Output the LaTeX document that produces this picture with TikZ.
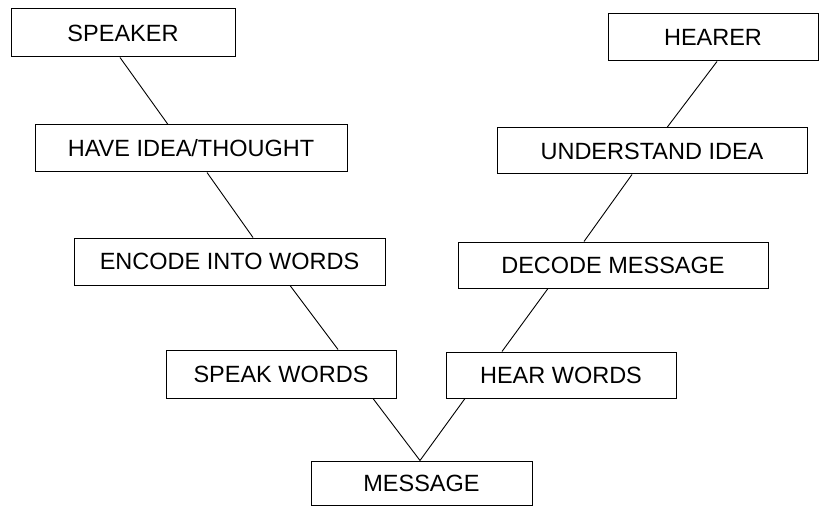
\documentclass[tikz,border=0pt]{standalone}
\usepackage{fontspec}
\setmainfont{Liberation Sans}
\begin{document}
\begin{tikzpicture}[x=1pt,y=-1pt,
  box/.style={draw, line width=1pt, rectangle, inner sep=0pt, font=\fontsize{23.5}{28}\selectfont},
  link/.style={line width=0.9pt}]
\useasboundingbox (0,0) rectangle (820,508);
\node[box, minimum width=224pt, minimum height=48pt] (speaker) at (123,33) {SPEAKER};
\node[box, minimum width=210pt, minimum height=47pt] (hearer) at (713,37.5) {HEARER};
\node[box, minimum width=312pt, minimum height=47pt] (have) at (191,148.5) {HAVE IDEA/THOUGHT};
\node[box, minimum width=310pt, minimum height=46pt] (understand) at (652,151) {UNDERSTAND IDEA};
\node[box, minimum width=311pt, minimum height=47pt] (encode) at (229.5,261.5) {ENCODE INTO WORDS};
\node[box, minimum width=310pt, minimum height=46pt] (decode) at (613,265) {DECODE MESSAGE};
\node[box, minimum width=230pt, minimum height=48pt] (speak) at (281,374) {SPEAK WORDS};
\node[box, minimum width=230pt, minimum height=46pt] (hear) at (561,375) {HEAR WORDS};
\node[box, minimum width=221pt, minimum height=44pt] (message) at (421.5,483) {MESSAGE};
\draw[link] ([xshift=-3pt]speaker.south) -- ([xshift=-23pt]have.north);
\draw[link] ([xshift=16pt]have.south) -- ([xshift=23.5pt]encode.north);
\draw[link] ([xshift=60.5pt]encode.south) -- ([xshift=57pt]speak.north);
\draw[link] ([xshift=92pt]speak.south) -- ([xshift=-1.5pt]message.north);
\draw[link] ([xshift=4pt]hearer.south) -- ([xshift=15pt]understand.north);
\draw[link] ([xshift=-20pt]understand.south) -- ([xshift=-29pt]decode.north);
\draw[link] ([xshift=-65pt]decode.south) -- ([xshift=-59pt]hear.north);
\draw[link] ([xshift=-96pt]hear.south) -- ([xshift=-1.5pt]message.north);
\end{tikzpicture}
\end{document}
